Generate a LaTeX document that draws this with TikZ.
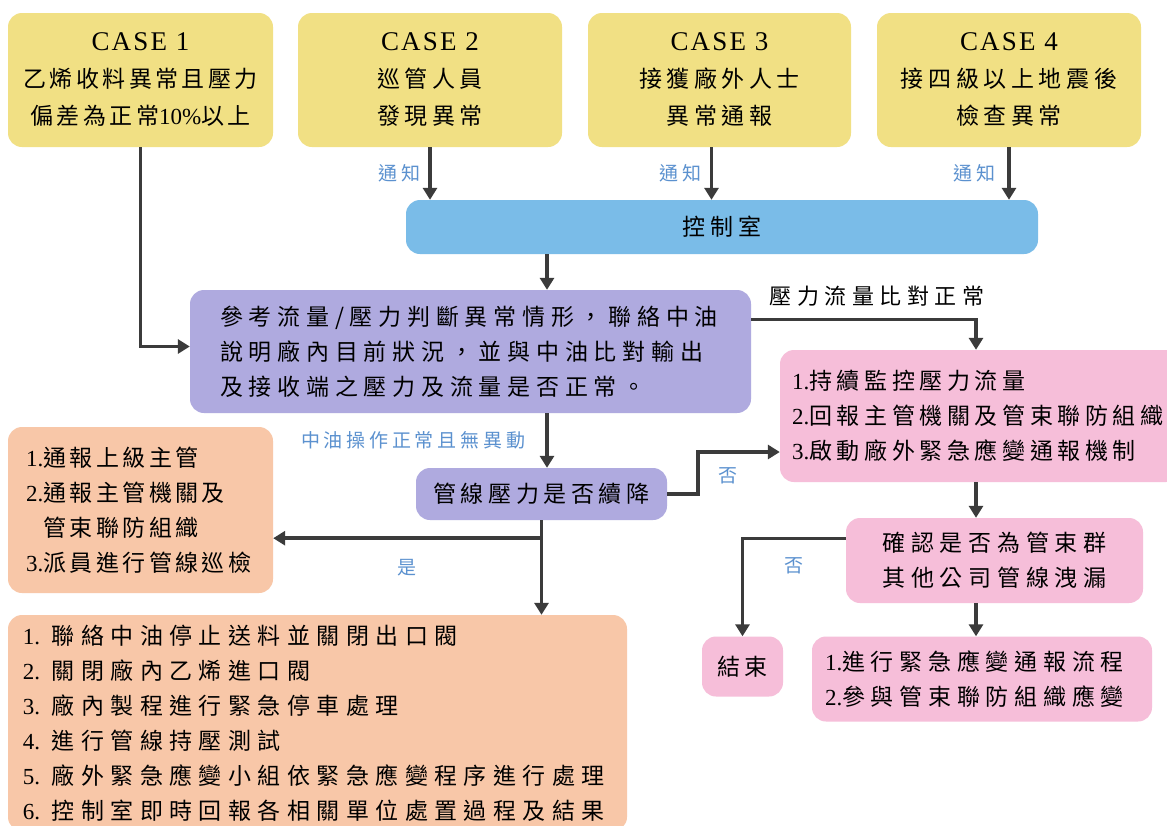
\documentclass[tikz,border=0pt]{standalone}
\usepackage{fontspec}
\usepackage{xcolor}
\setmainfont{Noto Sans CJK TC}[LetterSpace=20]
\newfontfamily\tightcjk{Noto Sans CJK TC}[LetterSpace=15]
\newfontfamily\widecjk{Noto Sans CJK TC}[LetterSpace=25]
\newfontfamily\widestcjk{Noto Sans CJK TC}[LetterSpace=28]
\newfontfamily\latin{Liberation Serif}
\newfontfamily\caselatin{Liberation Serif}[LetterSpace=8]
\usetikzlibrary{arrows.meta,positioning}

\definecolor{caseyellow}{HTML}{F1E084}
\definecolor{roomblue}{HTML}{7ABCE8}
\definecolor{checkpurple}{HTML}{AFAADF}
\definecolor{actpink}{HTML}{F6BED9}
\definecolor{actorange}{HTML}{F8C7A8}
\definecolor{linegray}{HTML}{3B3B3B}
\definecolor{noteblue}{HTML}{5B91CF}

\newcommand{\casetitle}[1]{{\caselatin\fontsize{27}{37}\selectfont CASE #1}}

\begin{document}
\begin{tikzpicture}[x=1pt, y=-1pt, >={Triangle[width=14pt,length=12pt]},
    base/.style={rounded corners=14pt, inner sep=0pt, font=\fontsize{23}{35}\selectfont},
    casebox/.style={base, fill=caseyellow, minimum height=134pt, align=center, font=\fontsize{23}{37}\selectfont},
    listbox/.style={base, align=left},
    flow/.style={->, draw=linegray, line width=3.6pt},
    note/.style={text=noteblue, inner sep=0pt, font=\fontsize{19}{22}\selectfont}]

    \useasboundingbox (0,0) rectangle (1167,825);
    \clip (0,0) rectangle (1167,825);
    \fill[white] (0,0) rectangle (1167,825);

    % Nodes
    \node[casebox, minimum width=265pt] (case1) at (140.5,80)
        {\casetitle{1}\\\tightcjk 乙烯收料異常且壓力\\\tightcjk 偏差為正常{\latin 10\%}以上};
    \node[casebox, minimum width=264pt] (case2) at (430,80)
        {\casetitle{2}\\巡管人員\\發現異常};
    \node[casebox, minimum width=263pt] (case3) at (719.5,80)
        {\casetitle{3}\\接獲廠外人士\\異常通報};
    \node[casebox, minimum width=264pt] (case4) at (1009,80)
        {\casetitle{4}\\接四級以上地震後\\檢查異常};

    \node[base, fill=roomblue, minimum width=632pt, minimum height=54pt] (room) at (722,227) {控制室};

    \node[listbox, fill=checkpurple, inner xsep=30pt, text width=501pt, minimum height=123pt] (judge) at (470.5,351.5)
        {\widecjk 參考流量/壓力判斷異常情形，聯絡中油\\\widecjk 說明廠內目前狀況，並與中油比對輸出\\\widecjk 及接收端之壓力及流量是否正常。};

    \node[listbox, fill=actpink, inner xsep=12pt, text width=376pt, minimum height=132pt] (steady) at (980,416)
        {{\latin 1.}持續監控壓力流量\\{\latin 2.}回報主管機關及管束聯防組織\\{\latin 3.}啟動廠外緊急應變通報機制};

    \node[base, fill=checkpurple, minimum width=251pt, minimum height=52pt] (drop) at (541.5,494) {管線壓力是否續降};

    \node[listbox, fill=actorange, inner xsep=18pt, text width=229pt, minimum height=166pt] (report) at (140.5,510)
        {\tightcjk{\latin 1.}通報上級主管\\\tightcjk{\latin 2.}通報主管機關及\\\tightcjk\phantom{\latin 2.}管束聯防組織\\\tightcjk{\latin 3.}派員進行管線巡檢};

    \node[listbox, fill=actorange, inner xsep=15pt, text width=589pt, minimum height=216pt] (shutdown) at (317.5,723)
        {\widestcjk{\latin 1. }聯絡中油停止送料並關閉出口閥\\\widestcjk{\latin 2. }關閉廠內乙烯進口閥\\\widestcjk{\latin 3. }廠內製程進行緊急停車處理\\
         \widestcjk{\latin 4. }進行管線持壓測試\\\widestcjk{\latin 5. }廠外緊急應變小組依緊急應變程序進行處理\\\widestcjk{\latin 6. }控制室即時回報各相關單位處置過程及結果};

    \node[base, fill=actpink, minimum width=297pt, minimum height=85pt, align=center] (confirm) at (994.5,560.5)
        {\widecjk 確認是否為管束群\\\widecjk 其他公司管線洩漏};

    \node[base, fill=actpink, minimum width=81pt, minimum height=60pt] (finish) at (742.5,666.5) {結束};

    \node[listbox, fill=actpink, inner xsep=13pt, text width=314pt, minimum height=85pt] (respond) at (982,679)
        {\widecjk{\latin 1.}進行緊急應變通報流程\\\widecjk{\latin 2.}參與管束聯防組織應變};

    % Helper columns
    \coordinate (midcol) at (547,0);
    \coordinate (rightcol) at (976,0);
    \coordinate (fork) at ([yshift=-18pt]drop.south);

    % Notifications
    \draw[flow] (case1.south) |- ([yshift=5pt]judge.west);
    \draw[flow] (case2.south) -- (case2.south |- room.north) node[note, midway, left=8pt] {通知};
    \draw[flow] ([xshift=-8pt]case3.south) -- ([xshift=-8pt]case3.south |- room.north) node[note, midway, left=8pt] {通知};
    \draw[flow] (case4.south) -- (case4.south |- room.north) node[note, midway, left=12pt] {通知};
    \draw[flow] (room.south -| midcol) -- (judge.north -| midcol);

    % Checks
    \draw[flow] ([yshift=32pt]judge.east) -| (steady.north -| rightcol)
        node[pos=0.28, above=11pt, inner sep=0pt, font=\fontsize{22}{26}\selectfont\widecjk] {壓力流量比對正常};
    \draw[flow] (judge.south -| midcol) -- (drop.north -| midcol) node[note, midway, left=20pt] {中油操作正常且無異動};
    \draw[flow] (drop.east) -- ++(31,0) |- ([yshift=-36pt]steady.west) node[note, pos=0.68, below=14pt] {否};
    \draw[flow] (drop.south) -- (drop.south |- shutdown.north);
    \draw[flow] (fork) -- (fork -| report.east) node[note, midway, below=19pt] {是};
    \draw[flow] (steady.south -| rightcol) -- (confirm.north -| rightcol);
    \draw[flow] ([yshift=22pt]confirm.west) -| (finish.north) node[note, pos=0.25, below=17pt] {否};
    \draw[flow] (confirm.south -| rightcol) -- (respond.north -| rightcol);

\end{tikzpicture}
\end{document}
